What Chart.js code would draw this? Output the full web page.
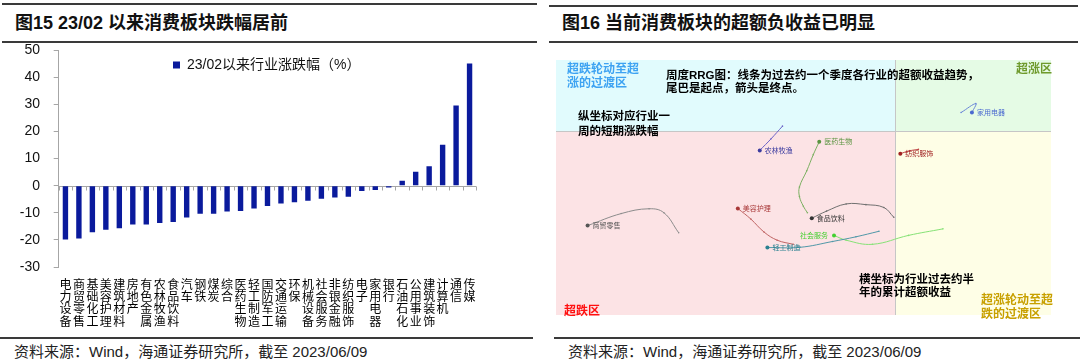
<!DOCTYPE html>
<html><head><meta charset="utf-8">
<script src="https://cdn.jsdelivr.net/npm/chart.js@4.4.1/dist/chart.umd.min.js"></script>
<style>
body{margin:0;width:1080px;height:364px;background:#fff;position:relative;overflow:hidden;font-family:"Liberation Sans","Noto Sans CJK SC",sans-serif;}
.rule{position:absolute;background:#3a3a3a;}
.title{position:absolute;font-weight:bold;font-size:18px;color:#111;line-height:18px;white-space:nowrap}
.src{position:absolute;font-size:15px;color:#222;line-height:15px;white-space:nowrap}
canvas{position:absolute}
</style></head><body>
<div class="rule" style="left:2px;top:3px;width:535px;height:2px"></div>
<div class="rule" style="left:2px;top:40.5px;width:535px;height:2px"></div>
<div class="rule" style="left:549px;top:4.5px;width:529px;height:2px"></div>
<div class="rule" style="left:549px;top:40.5px;width:529px;height:2px"></div>
<div class="rule" style="left:0px;top:337px;width:533px;height:1.5px"></div>
<div class="rule" style="left:554px;top:337px;width:526px;height:1.5px"></div>
<div class="title" style="left:15px;top:14px">图15 23/02 以来消费板块跌幅居前</div>
<div class="title" style="left:562px;top:14px">图16 当前消费板块的超额负收益已明显</div>
<div class="src" style="left:14px;top:344px">资料来源：Wind，海通证券研究所，截至 2023/06/09</div>
<div class="src" style="left:568px;top:344px">资料来源：Wind，海通证券研究所，截至 2023/06/09</div>
<canvas id="c1" width="540" height="307" style="left:0;top:28px"></canvas>
<canvas id="c2" width="503" height="263" style="left:552px;top:56px"></canvas>
<script>
// ---------- Figure 15 data ----------
const categories = ['电力设备','商贸零售','基础化工','美容护理','建筑材料','房地产','有色金属','农林牧渔','食品饮料','汽车','钢铁','煤炭','综合','医药生物','轻工制造','国防军工','交通运输','环保','机械设备','社会服务','非银金融','纺织服饰','电子','家用电器','银行','石油石化','公用事业','建筑装饰','计算机','通信','传媒'];
const changePct = [-19.9,-19.5,-17.2,-16.3,-15.7,-14.3,-14.3,-13.8,-13.4,-11.7,-10.4,-10.4,-9.5,-9.3,-8.4,-7.5,-6.6,-6.1,-5.6,-4.8,-4.4,-4.1,-2.0,-1.6,-0.7,1.8,5.1,7.2,15.1,29.6,45.1];
const seriesName = '23/02以来行业涨跌幅（%）';
const yTicks = [-30,-20,-10,0,10,20,30,40,50];

// ---------- Figure 16 (RRG) data ----------
const rrgNames = ['农林牧渔','医药生物','食品饮料','美容护理','轻工制造','社会服务','商贸零售','纺织服饰','家用电器'];
const rrgX = [
  [-7.25,-7.98,-8.71],
  [-5.65,-5.91,-6.16,-6.16,-5.69,-5.27,-4.89],
  [-0.10,-0.74,-1.89,-3.16,-4.42,-5.37],
  [-6.56,-7.59,-8.44,-9.28,-10.12],
  [-1.05,-2.53,-4.03,-6.11,-8.22],
  [3.06,0.85,-1.47,-3.16,-3.94],
  [-13.92,-14.87,-15.82,-17.61,-19.77],
  [1.48,0.91,0.32],
  [4.22,5.17,4.92]
];
const rrgY = [
  [0.33,-0.56,-1.38],
  [-5.78,-5.32,-4.64,-3.96,-2.82,-1.68,-0.77],
  [-6.10,-5.41,-5.21,-5.16,-5.67,-6.17],
  [-8.01,-7.72,-7.14,-6.23,-5.48],
  [-7.09,-7.48,-7.81,-8.22,-8.24],
  [-6.92,-7.38,-8.01,-7.72,-7.38],
  [-7.19,-5.78,-5.50,-5.84,-6.69],
  [-1.31,-1.41,-1.61],
  [1.29,1.92,1.29]
];
const rrgXRange = [-21.8, 10];
const rrgYRange = [-13, 5];

const CJK = "'Noto Sans CJK SC', sans-serif";
const LAT = "'Liberation Sans', 'Noto Sans CJK SC', sans-serif";

// ---------- Figure 15 ----------
const zeroLine = {
  id:'zeroLine',
  beforeDatasetsDraw(chart){
    const {ctx, chartArea:a, scales:{x,y}} = chart;
    const y0 = Math.round(y.getPixelForValue(0)) + 0.5;
    const n = x.ticks.length, step = (a.right - a.left) / n;
    ctx.save();
    ctx.strokeStyle = '#a6a6a6'; ctx.lineWidth = 1;
    ctx.beginPath();
    ctx.moveTo(a.left, y0); ctx.lineTo(a.right, y0);
    for (let i = 0; i <= n; i++) {
      const xx = Math.round(a.left + i*step) + 0.5;
      ctx.moveTo(xx, y0); ctx.lineTo(xx, y0 + 4);
    }
    ctx.stroke();
    ctx.restore();
  }
};
const legendMove = {
  id:'legendMove',
  afterLayout(chart){
    const lg = chart.legend; if (!lg) return;
    const w = lg.width, h = lg.height;
    lg.left = 163; lg.right = 163 + w;
    lg.top = chart.chartArea.top - 2; lg.bottom = lg.top + h;
  }
};

new Chart(document.getElementById('c1'), {
  type:'bar',
  data:{
    labels: categories.map(s => s.split('')),
    datasets:[{label:seriesName, data:changePct, backgroundColor:'#0a1a9c', barPercentage:0.4, categoryPercentage:1}]
  },
  options:{
    responsive:false, animation:false, devicePixelRatio:1,
    layout:{padding:{left:0, right:63.7, top:0, bottom:0}},
    plugins:{
      legend:{position:'chartArea', align:'start',
        labels:{boxWidth:7, boxHeight:7, color:'#111', padding:10, font:{size:14, family:LAT}}},
      tooltip:{enabled:false}
    },
    scales:{
      x:{
        grid:{display:false}, border:{display:false},
        ticks:{autoSkip:false, maxRotation:0, minRotation:0, padding:3, color:'#000',
          font:{size:12, family:CJK, lineHeight:1.03}},
        afterFit(s){ s.height = 68; }
      },
      y:{
        min:yTicks[0], max:yTicks[yTicks.length-1],
        afterBuildTicks(s){ s.ticks = yTicks.map(v => ({value:v})); },
        ticks:{padding:13.7, color:'#111', font:{size:14, family:LAT}},
        grid:{drawOnChartArea:false, drawTicks:true, tickLength:5, color:'#a6a6a6'},
        border:{color:'#a6a6a6'},
        afterFit(s){ s.width = 58.7; }
      }
    }
  },
  plugins:[zeroLine, legendMove]
});

// ---------- Figure 16 ----------
const rrgLine = ['#6a62c8','#7cb062','#707070','#c06464','#5098a8','#86e276','#8c8c8c','#c04848','#6a86d8'];
const rrgText = ['#3c3ca0','#5a9440','#333333','#a83838','#2a8090','#44d030','#555555','#a02020','#4a6ad0'];

const rrgNotes = [
  {t:['超跌轮动至超','涨的过渡区'], x:11, y:10, c:'#3ea3f2', s:12, lh:14},
  {t:['周度RRG图：线条为过去约一个季度各行业的超额收益趋势，','尾巴是起点，箭头是终点。'], x:110, y:16, c:'#000', s:11.5, lh:12.5},
  {t:['纵坐标对应行业一','周的短期涨跌幅'], x:22, y:57, c:'#000', s:11.5, lh:14.7},
  {t:['超涨区'], x:460, y:10, c:'#6e9a2c', s:12, lh:14},
  {t:['超跌区'], x:8, y:251.7, c:'#ff1010', s:12, lh:14},
  {t:['横坐标为行业过去约半','年的累计超额收益'], x:303, y:220, c:'#000', s:11.5, lh:13},
  {t:['超涨轮动至超','跌的过渡区'], x:425, y:240.7, c:'#c8a000', s:12, lh:14}
];

const rrgBg = {
  id:'rrgBg',
  beforeDatasetsDraw(chart){
    const {ctx, chartArea:a, scales:{x,y}} = chart;
    const x0 = Math.round(x.getPixelForValue(0)), y0 = Math.round(y.getPixelForValue(0));
    ctx.save();
    ctx.fillStyle = '#e1fbfd'; ctx.fillRect(a.left, a.top, x0 - a.left, y0 - a.top);
    ctx.fillStyle = '#e5fbe5'; ctx.fillRect(x0, a.top, a.right - x0, y0 - a.top);
    ctx.fillStyle = '#fce3e5'; ctx.fillRect(a.left, y0, x0 - a.left, a.bottom - y0);
    ctx.fillStyle = '#fefee6'; ctx.fillRect(x0, y0, a.right - x0, a.bottom - y0);
    ctx.strokeStyle = '#c6c6c6'; ctx.lineWidth = 1;
    ctx.beginPath();
    ctx.moveTo(a.left, y0 + 0.5); ctx.lineTo(a.right, y0 + 0.5);
    ctx.moveTo(x0 + 0.5, a.top); ctx.lineTo(x0 + 0.5, a.bottom);
    ctx.stroke();
    ctx.textBaseline = 'middle'; ctx.textAlign = 'left';
    rrgNotes.forEach(n => {
      ctx.fillStyle = n.c;
      ctx.font = 'bold ' + n.s + 'px ' + LAT;
      n.t.forEach((line, i) => ctx.fillText(line, a.left + n.x, a.top + n.y + i*n.lh));
    });
    ctx.restore();
  }
};
const endLabels = {
  id:'endLabels',
  afterDatasetsDraw(chart, args, opts){
    const {ctx} = chart;
    ctx.save();
    ctx.font = '7px ' + CJK;
    ctx.textBaseline = 'middle';
    chart.data.datasets.forEach((ds, i) => {
      const meta = chart.getDatasetMeta(i);
      const p = meta.data[meta.data.length - 1];
      const left = opts.leftOf.includes(ds.label);
      ctx.fillStyle = rrgText[i];
      ctx.textAlign = left ? 'right' : 'left';
      ctx.fillText(ds.label, left ? p.x - 6 : p.x + 5, p.y);
    });
    ctx.restore();
  }
};

new Chart(document.getElementById('c2'), {
  type:'scatter',
  data:{
    datasets: rrgNames.map((name, i) => ({
      label:name,
      data: rrgX[i].map((v, j) => ({x:v, y:rrgY[i][j]})),
      showLine:true, tension:0.4, borderWidth:1, borderColor:rrgLine[i],
      pointRadius: rrgX[i].map((_, j) => j === rrgX[i].length - 1 ? 2 : 0.8),
      pointBackgroundColor: rrgX[i].map((_, j) => j === rrgX[i].length - 1 ? rrgText[i] : rrgLine[i]),
      pointBorderWidth:0
    }))
  },
  options:{
    responsive:false, animation:false, devicePixelRatio:1,
    layout:{padding:0},
    plugins:{legend:{display:false}, tooltip:{enabled:false}, endLabels:{leftOf:['社会服务']}},
    scales:{
      x:{type:'linear', min:rrgXRange[0], max:rrgXRange[1], display:false},
      y:{type:'linear', min:rrgYRange[0], max:rrgYRange[1], display:false}
    }
  },
  plugins:[rrgBg, endLabels]
});
</script>
</body></html>
